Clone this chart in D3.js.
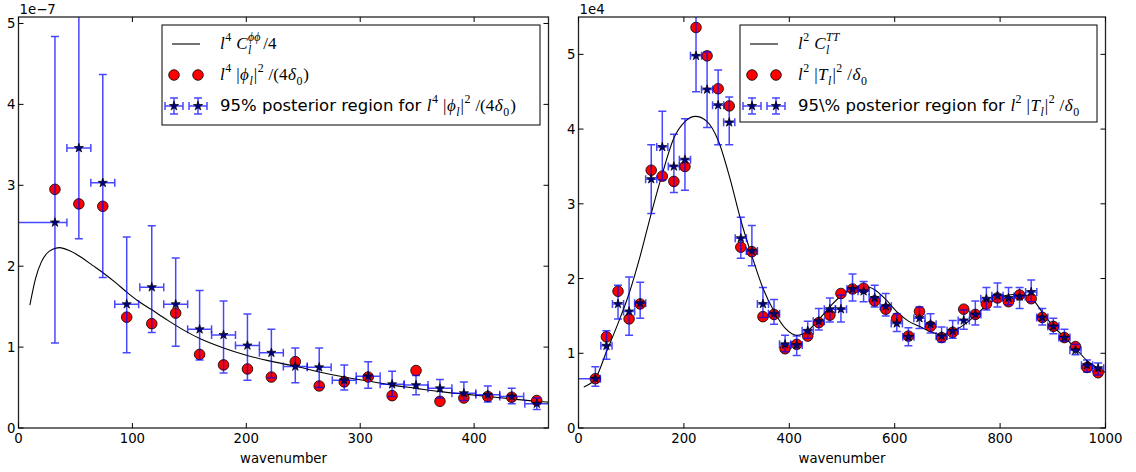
<!DOCTYPE html>
<html><head><meta charset="utf-8">
<script src="https://cdn.jsdelivr.net/npm/d3@7/dist/d3.min.js"></script>
<style>body{margin:0;background:#fff}svg{display:block}text{font-family:"DejaVu Sans",sans-serif;fill:#000}</style>
</head><body><svg id="c" width="1136" height="472"></svg>
<script>
// ---------- Left panel data (values in units of 1e-7) ----------
const phiX   = [32,53,74,95,117,138,159,180,201,222,243,264,286,307,328,349,370,391,412,433,455];
const phiMed = [2.54,3.46,3.03,1.53,1.74,1.53,1.22,1.15,1.02,0.93,0.76,0.75,0.59,0.64,0.54,0.53,0.49,0.43,0.41,0.39,0.30];
const phiObs = [2.95,2.77,2.74,1.37,1.29,1.42,0.91,0.78,0.73,0.63,0.82,0.52,0.57,0.63,0.40,0.71,0.33,0.37,0.39,0.38,0.34];
const phiLo  = [1.05,2.34,1.86,0.93,1.18,1.01,0.84,0.68,0.59,0.62,0.56,0.50,0.47,0.49,0.39,0.41,0.37,0.34,0.32,0.30,0.23];
const phiHi  = [4.84,5.60,4.37,2.36,2.50,2.10,1.70,1.57,1.41,1.22,0.99,0.99,0.78,0.82,0.70,0.65,0.60,0.57,0.52,0.49,0.37];
const phiXLo = [-10,42.5,63.5,84.5,106.5,127.5,148.5,169.5,190.5,211.5,232.5,253.5,275.5,296.5,317.5,338.5,359.5,380.5,401.5,422.5,444.5];
const phiXHi = [42.5,63.5,84.5,105.5,127.5,148.5,169.5,190.5,211.5,232.5,253.5,274.5,296.5,317.5,338.5,359.5,380.5,401.5,422.5,443.5,465.5];
const phiCurveX = [10,15,20,25,30,36,45,55,65,75,85,95,105,116,130,145,160,180,200,220,244,265,286,307,328,349,370,391,412,433,455,465];
const phiCurveY = [1.52,1.85,2.05,2.16,2.21,2.23,2.19,2.11,2.01,1.91,1.80,1.68,1.57,1.47,1.34,1.21,1.10,0.99,0.90,0.83,0.76,0.69,0.63,0.58,0.53,0.49,0.45,0.42,0.39,0.36,0.33,0.32];
const phiXTicks = [0,100,200,300,400];
const phiYTicks = [0,1,2,3,4,5];

// ---------- Right panel data (values in units of 1e4) ----------
const ttX   = [32,53,75,96,117,138,159,181,202,223,244,265,286,308,329,350,371,392,414,435,456,477,498,520,541,562,583,604,626,647,668,689,710,731,753,774,795,816,837,859,880,901,922,943,965,986];
const ttMed = [0.66,1.10,1.66,1.56,1.67,3.33,3.76,3.50,3.59,4.98,4.53,4.32,4.09,2.54,2.37,1.66,1.53,1.12,1.11,1.30,1.43,1.59,1.59,1.86,1.83,1.74,1.63,1.40,1.22,1.47,1.39,1.23,1.30,1.44,1.52,1.73,1.77,1.74,1.76,1.82,1.48,1.36,1.21,1.04,0.84,0.80];
const ttObs = [0.66,1.22,1.83,1.46,1.66,3.45,3.37,3.30,3.50,5.36,4.98,4.54,4.31,2.42,2.36,1.49,1.52,1.06,1.12,1.23,1.41,1.51,1.80,1.86,1.87,1.70,1.59,1.47,1.23,1.56,1.36,1.21,1.28,1.59,1.52,1.66,1.74,1.69,1.78,1.73,1.48,1.36,1.21,1.09,0.81,0.74];
const ttLo  = [0.56,0.92,1.46,1.24,1.47,2.87,3.32,3.15,3.18,4.50,4.02,3.79,3.79,2.27,2.17,1.48,1.39,1.02,0.97,1.20,1.31,1.42,1.42,1.70,1.69,1.62,1.50,1.29,1.10,1.33,1.27,1.15,1.20,1.32,1.38,1.58,1.62,1.65,1.60,1.69,1.38,1.26,1.16,0.98,0.75,0.71];
const ttHi  = [0.82,1.30,1.91,2.02,1.95,3.79,4.24,3.93,4.14,5.60,5.03,4.79,4.43,2.82,2.71,1.88,1.72,1.24,1.23,1.43,1.60,1.74,1.78,2.06,1.96,1.91,1.80,1.53,1.34,1.62,1.53,1.35,1.44,1.58,1.70,1.88,1.94,1.88,1.88,1.98,1.60,1.47,1.32,1.12,0.91,0.87];
const ttXHalf = [50,10.6,10.6,10.6,10.6,10.6,10.6,10.6,10.6,10.6,10.6,10.6,10.6,10.6,10.6,10.6,10.6,10.6,10.6,10.6,10.6,10.6,10.6,10.6,10.6,10.6,10.6,10.6,10.6,10.6,10.6,10.6,10.6,10.6,10.6,10.6,10.6,10.6,10.6,10.6,10.6,10.6,10.6,10.6,10.6,10.6];
const ttCurveX = [10,32,53,75,96,117,138,159,181,202,222,244,265,287,308,330,350,372,393,415,435,456,478,500,520,541,562,583,605,626,647,668,689,710,731,752,774,795,817,837,859,880,901,923,944,965,986,1000];
const ttCurveY = [0.55,0.66,1.02,1.40,1.80,2.30,2.87,3.40,3.88,4.10,4.17,4.10,3.85,3.35,2.78,2.28,1.87,1.55,1.33,1.24,1.30,1.45,1.63,1.78,1.87,1.90,1.85,1.72,1.55,1.43,1.36,1.29,1.25,1.29,1.38,1.50,1.64,1.74,1.78,1.79,1.74,1.55,1.36,1.21,1.06,0.90,0.80,0.74];
const ttXTicks = [0,200,400,600,800,1000];
const ttYTicks = [0,1,2,3,4,5];

const svg = d3.select('#c');
const BLUE = '#0000ff';
const MATHFONT = '"Liberation Serif","DejaVu Serif",serif';

function mathLine(g, x, y, pieces, size){
  let cx = x, lastStart = x, lastEnd = x;
  pieces.forEach(p=>{
    if(p.space){ cx += p.space; return; }
    let fs = size, dy = 0;
    if(p.sup){ fs = size*0.7; dy = -size*0.45; }
    if(p.sub){ fs = size*0.7; dy = size*0.28; }
    let sx = p.stack ? lastStart : cx;
    const t = g.append('text').attr('x', sx).attr('y', y+dy).attr('font-size', fs).text(p.t);
    if(p.sans){ t.attr('font-size', 16.5).style('font-family','"DejaVu Sans",sans-serif'); }
    else { t.style('font-family',MATHFONT).style('font-style', p.it?'italic':'normal'); }
    const w = t.node().getComputedTextLength();
    if(p.stack){ cx = Math.max(lastEnd, sx + w) + 1; }
    else { lastStart = sx; lastEnd = sx + w; cx = sx + w + (p.sup||p.sub?1:0.5); }
  });
  return cx;
}

function panel(c){
  const g = svg.append('g');
  const xs = d3.scaleLinear().domain(c.xDom).range([c.L, c.R]);
  const ys = d3.scaleLinear().domain(c.yDom).range([c.B, c.T]);
  const id = 'clip'+c.name;
  svg.append('clipPath').attr('id', id).append('rect').attr('x',c.L).attr('y',c.T).attr('width',c.R-c.L).attr('height',c.B-c.T);
  const pg = g.append('g').attr('clip-path','url(#'+id+')');
  const line = d3.line().x(d=>xs(d[0])).y(d=>ys(d[1])).curve(d3.curveMonotoneX);
  pg.append('path').datum(c.cx.map((v,i)=>[v,c.cy[i]])).attr('d',line).attr('fill','none').attr('stroke','#000').attr('stroke-width',1.1);
  pg.selectAll('circle.obs').data(c.px.map((v,i)=>[v,c.obs[i]])).join('circle')
    .attr('cx',d=>xs(d[0])).attr('cy',d=>ys(d[1])).attr('r',5.3)
    .attr('fill','#ff0000').attr('stroke','#000').attr('stroke-width',0.8);
  const cap = 4;
  c.px.forEach((v,i)=>{
    const eg = pg.append('g').attr('stroke',BLUE).attr('stroke-opacity',0.72).attr('stroke-width',1.5).attr('fill','none');
    const X = xs(v), yl = ys(c.lo[i]), yh = ys(c.hi[i]);
    const xl = xs(c.xlo[i]), xh = xs(c.xhi[i]), Y = ys(c.med[i]);
    eg.append('path').attr('d',`M${X},${yl}V${yh}M${X-cap},${yl}H${X+cap}M${X-cap},${yh}H${X+cap}`);
    eg.append('path').attr('d',`M${xl},${Y}H${xh}M${xl},${Y-cap}V${Y+cap}M${xh},${Y-cap}V${Y+cap}`);
  });
  const star = d3.symbol().type(d3.symbolStar).size(26);
  pg.selectAll('path.star').data(c.px.map((v,i)=>[v,c.med[i]])).join('path')
    .attr('transform',d=>`translate(${xs(d[0])},${ys(d[1])})`).attr('d',star)
    .attr('fill','#000080').attr('stroke','#000').attr('stroke-width',0.7);
  g.append('rect').attr('x',c.L).attr('y',c.T).attr('width',c.R-c.L).attr('height',c.B-c.T)
    .attr('fill','none').attr('stroke','#222').attr('stroke-width',1.3);
  const tl = 5;
  c.xTicks.forEach(t=>{
    const X = xs(t);
    g.append('path').attr('d',`M${X},${c.B}V${c.B-tl}M${X},${c.T}V${c.T+tl}`).attr('stroke','#000').attr('stroke-width',1);
    g.append('text').attr('x',X).attr('y',c.B+15).attr('text-anchor','middle').attr('font-size',13.3).text(t);
  });
  c.yTicks.forEach(t=>{
    const Y = ys(t);
    g.append('path').attr('d',`M${c.L},${Y}H${c.L+tl}M${c.R},${Y}H${c.R-tl}`).attr('stroke','#000').attr('stroke-width',1);
    g.append('text').attr('x',c.L-3).attr('y',Y+5).attr('text-anchor','end').attr('font-size',13.3).text(t);
  });
  g.append('text').attr('x',c.L+1).attr('y',c.T-3).attr('font-size',13.3).text(c.offset);
  g.append('text').attr('x',(c.L+c.R)/2).attr('y',c.B+35).attr('text-anchor','middle').attr('font-size',13.3).text('wavenumber');
  const lg = c.leg;
  g.append('rect').attr('x',lg.x).attr('y',lg.y).attr('width',lg.w).attr('height',lg.h).attr('fill','#fff').attr('stroke','#000').attr('stroke-width',1);
  const m1 = lg.x+lg.m, m2 = lg.x+lg.m+24, tx = lg.x+lg.t;
  const r1 = lg.y+19, r2 = lg.y+50, r3 = lg.y+81;
  g.append('path').attr('d',`M${m1-2},${r1}H${m2+2}`).attr('stroke','#000').attr('stroke-width',1.1);
  [m1,m2].forEach(m=>g.append('circle').attr('cx',m).attr('cy',r2).attr('r',5.3).attr('fill','#ff0000').attr('stroke','#000').attr('stroke-width',0.8));
  [m1,m2].forEach(m=>{
    g.append('path').attr('d',`M${m-9},${r3}H${m+9}M${m-9},${r3-4}V${r3+4}M${m+9},${r3-4}V${r3+4}M${m},${r3-8}V${r3+8}M${m-4},${r3-8}H${m+4}M${m-4},${r3+8}H${m+4}`)
      .attr('stroke',BLUE).attr('stroke-opacity',0.72).attr('stroke-width',1.5).attr('fill','none');
    g.append('path').attr('transform',`translate(${m},${r3})`).attr('d',star).attr('fill','#000080').attr('stroke','#000').attr('stroke-width',0.7);
  });
  mathLine(g, tx, r1+5, lg.l1, 17);
  mathLine(g, tx, r2+5, lg.l2, 17);
  mathLine(g, tx, r3+5, lg.l3, 17);
}

const phiL1 = [{t:'l',it:1},{t:'4',sup:1},{space:4},{t:'C',it:1},{t:'l',sub:1,it:1},{t:'ϕϕ',sup:1,it:1,stack:1},{space:2},{t:'/4'}];
const phiL2 = [{t:'l',it:1},{t:'4',sup:1},{space:4},{t:'|'},{t:'ϕ',it:1},{t:'l',sub:1,it:1},{t:'|'},{t:'2',sup:1},{space:4},{t:'/(4'},{t:'δ',it:1},{t:'0',sub:1},{t:')'}];
const phiL3 = [{t:'95% posterior region for',sans:1},{space:5},{t:'l',it:1},{t:'4',sup:1},{space:4},{t:'|'},{t:'ϕ',it:1},{t:'l',sub:1,it:1},{t:'|'},{t:'2',sup:1},{space:4},{t:'/(4'},{t:'δ',it:1},{t:'0',sub:1},{t:')'}];
const ttL1 = [{t:'l',it:1},{t:'2',sup:1},{space:4},{t:'C',it:1},{t:'l',sub:1,it:1},{t:'TT',sup:1,it:1,stack:1}];
const ttL2 = [{t:'l',it:1},{t:'2',sup:1},{space:4},{t:'|'},{t:'T',it:1},{t:'l',sub:1,it:1},{t:'|'},{t:'2',sup:1},{space:4},{t:'/'},{t:'δ',it:1},{t:'0',sub:1}];
const ttL3 = [{t:'95\\% posterior region for',sans:1},{space:5},{t:'l',it:1},{t:'2',sup:1},{space:4},{t:'|'},{t:'T',it:1},{t:'l',sub:1,it:1},{t:'|'},{t:'2',sup:1},{space:4},{t:'/'},{t:'δ',it:1},{t:'0',sub:1}];

panel({name:'phi', L:18.5, R:548.5, T:17, B:428, xDom:[0,465.3], yDom:[0,5.08],
  xTicks:phiXTicks, yTicks:phiYTicks, offset:'1e\u22127',
  cx:phiCurveX, cy:phiCurveY, px:phiX, med:phiMed, obs:phiObs, lo:phiLo, hi:phiHi, xlo:phiXLo, xhi:phiXHi,
  leg:{x:162,y:25,w:378,h:100,m:12,t:58,l1:phiL1,l2:phiL2,l3:phiL3}});

panel({name:'tt', L:578.5, R:1105.5, T:17, B:428, xDom:[0,1000], yDom:[0,5.5],
  xTicks:ttXTicks, yTicks:ttYTicks, offset:'1e4',
  cx:ttCurveX, cy:ttCurveY, px:ttX, med:ttMed, obs:ttObs, lo:ttLo, hi:ttHi,
  xlo:ttX.map((v,i)=>v-ttXHalf[i]), xhi:ttX.map((v,i)=>v+(i===0?9.5:ttXHalf[i])),
  leg:{x:740,y:25,w:357,h:97,m:12,t:58,l1:ttL1,l2:ttL2,l3:ttL3}});
</script></body></html>
